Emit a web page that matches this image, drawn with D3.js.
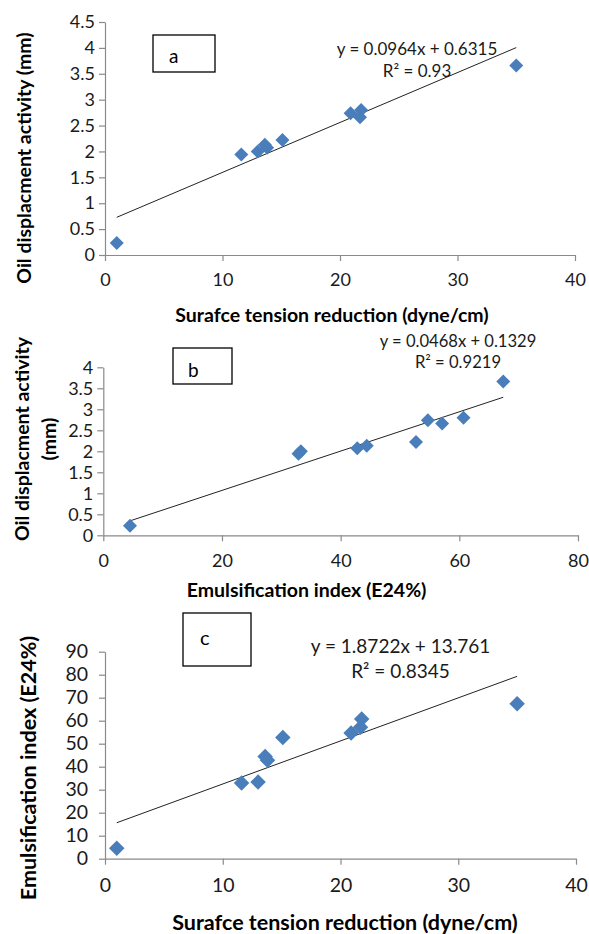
<!DOCTYPE html>
<html>
<head>
<meta charset="utf-8">
<script src="https://cdn.jsdelivr.net/npm/d3@7"></script>
<style>
body { margin: 0; background: #fff; }
svg { display: block; }
</style>
</head>
<body>
<svg id="mysvg" width="589" height="934"></svg>
<script>
// values, one entry per sample (same order in every array)
let stReduction = [1.0, 11.6, 13.0, 13.6, 13.8, 15.1, 20.9, 21.8, 21.7, 35.0];
let oilDisplacement = [0.23, 1.94, 2.0, 2.13, 2.07, 2.22, 2.74, 2.8, 2.66, 3.66];
let e24Index = [4.5, 32.9, 33.3, 44.4, 42.8, 52.7, 54.7, 60.7, 57.1, 67.4];

// tick labels
let stTicks = [0, 10, 20, 30, 40];
let e24Ticks = [0, 20, 40, 60, 80];
let oilTicksA = [0, 0.5, 1, 1.5, 2, 2.5, 3, 3.5, 4, 4.5];
let oilTicksB = [0, 0.5, 1, 1.5, 2, 2.5, 3, 3.5, 4];
let e24TicksY = [0, 10, 20, 30, 40, 50, 60, 70, 80, 90];

// linear trendlines as printed on the chart
let panelLetters = ["a", "b", "c"];
let trendSlopes = [0.0964, 0.0468, 1.8722];
let trendIntercepts = [0.6315, 0.1329, 13.761];
let trendEquations = ["y = 0.0964x + 0.6315", "y = 0.0468x + 0.1329", "y = 1.8722x + 13.761"];
let trendR2 = ["R\u00b2 = 0.93", "R\u00b2 = 0.9219", "R\u00b2 = 0.8345"];

var svg = d3.select("#mysvg");
var font = "Lato, 'Open Sans', sans-serif";
var axisColor = "#8a8a8a";
var markerColor = "#4a7ebb";

var panels = [
    { xs: stReduction, ys: oilDisplacement, xDomain: [0, 40], yDomain: [0, 4.5],
      xTicks: stTicks, yTicks: oilTicksA, xRange: [105, 575], yRange: [255, 22],
      tickFont: 18, yPad: 4, xLabelOff: 25,
      xTitle: "Surafce tension reduction (dyne/cm)", xTitleX: 332, xTitleY: 315, titleFont: 19.5,
      yTitle: ["Oil displacment activity (mm)"], yTitleX: [24.5], yTitleY: 158,
      box: [153, 35, 62, 37], letterX: 169, letterY: 63.3, letterFont: 19,
      eqX: 417, eqY: [55, 77.3], eqFont: 17, marker: 14 },
    { xs: e24Index, ys: oilDisplacement, xDomain: [0, 80], yDomain: [0, 4],
      xTicks: e24Ticks, yTicks: oilTicksB, xRange: [103.3, 578], yRange: [535.3, 367.3],
      tickFont: 18, yPad: 4, xLabelOff: 25,
      xTitle: "Emulsification index (E24%)", xTitleX: 306.6, xTitleY: 590, titleFont: 19.5,
      yTitle: ["Oil displacment activity", "(mm)"], yTitleX: [22.6, 49], yTitleY: 439,
      box: [173, 348, 59, 36], letterX: 188, letterY: 376.7, letterFont: 19,
      eqX: 458, eqY: [346.7, 368.3], eqFont: 16.6, marker: 14 },
    { xs: stReduction, ys: e24Index, xDomain: [0, 40], yDomain: [0, 90],
      xTicks: stTicks, yTicks: e24TicksY, xRange: [105, 576], yRange: [858.7, 651.7],
      tickFont: 19.5, yPad: 11, xLabelOff: 26,
      xTitle: "Surafce tension reduction (dyne/cm)", xTitleX: 345, xTitleY: 922, titleFont: 21.5,
      yTitle: ["Emulsification index (E24%)"], yTitleX: [28], yTitleY: 768,
      box: [183, 613, 68, 53], letterX: 200, letterY: 645, letterFont: 20,
      eqX: 400.5, eqY: [653.3, 678.3], eqFont: 19, marker: 15.5 }
];

function drawPanel(p, i) {
    var x = d3.scaleLinear().domain(p.xDomain).range(p.xRange);
    var y = d3.scaleLinear().domain(p.yDomain).range(p.yRange);
    var g = svg.append("g");

    var xAxis = g.append("g")
        .attr("transform", "translate(0," + p.yRange[0] + ")")
        .call(d3.axisBottom(x).tickValues(p.xTicks).tickSizeInner(6).tickSizeOuter(0).tickFormat(function(d) { return d; }));
    xAxis.selectAll("text").attr("y", p.xLabelOff).attr("dy", "0.35em");

    var yAxis = g.append("g")
        .attr("transform", "translate(" + p.xRange[0] + ",0)")
        .call(d3.axisLeft(y).tickValues(p.yTicks).tickSizeInner(6).tickSizeOuter(0).tickPadding(p.yPad).tickFormat(function(d) { return d; }));

    g.selectAll(".domain, .tick line").attr("stroke", axisColor).attr("stroke-width", 1.2);
    g.selectAll(".tick text")
        .attr("fill", "#1a1a1a")
        .attr("font-family", font)
        .attr("font-size", p.tickFont + "px");

    // trendline over the range of the data
    var x0 = d3.min(p.xs), x1 = d3.max(p.xs);
    g.append("line")
        .attr("x1", x(x0)).attr("y1", y(trendSlopes[i] * x0 + trendIntercepts[i]))
        .attr("x2", x(x1)).attr("y2", y(trendSlopes[i] * x1 + trendIntercepts[i]))
        .attr("stroke", "#222")
        .attr("stroke-width", 1);

    g.selectAll(".pt")
        .data(p.xs).enter().append("path")
        .attr("class", "pt")
        .attr("d", d3.symbol().type(d3.symbolSquare).size((p.marker * p.marker) / 2))
        .attr("transform", function(d, j) { return "translate(" + x(d) + "," + y(p.ys[j]) + ") rotate(45)"; })
        .attr("fill", markerColor);

    // equation text
    g.append("text")
        .attr("x", p.eqX).attr("y", p.eqY[0])
        .attr("text-anchor", "middle")
        .attr("font-family", font).attr("font-size", p.eqFont + "px").attr("fill", "#1a1a1a")
        .text(trendEquations[i]);
    g.append("text")
        .attr("x", p.eqX).attr("y", p.eqY[1])
        .attr("text-anchor", "middle")
        .attr("font-family", font).attr("font-size", p.eqFont + "px").attr("fill", "#1a1a1a")
        .text(trendR2[i]);

    // letter box
    g.append("rect")
        .attr("x", p.box[0]).attr("y", p.box[1])
        .attr("width", p.box[2]).attr("height", p.box[3])
        .attr("fill", "#fff").attr("stroke", "#000").attr("stroke-width", 1.3);
    g.append("text")
        .attr("x", p.letterX).attr("y", p.letterY)
        .attr("font-family", font).attr("font-size", p.letterFont + "px").attr("fill", "#000")
        .text(panelLetters[i]);

    // axis titles
    g.append("text")
        .attr("x", p.xTitleX).attr("y", p.xTitleY).attr("dy", "0.35em")
        .attr("text-anchor", "middle")
        .attr("font-family", font).attr("font-weight", "bold")
        .attr("font-size", p.titleFont + "px").attr("fill", "#000")
        .text(p.xTitle);

    p.yTitle.forEach(function(t, k) {
        g.append("text")
            .attr("transform", "translate(" + p.yTitleX[k] + "," + p.yTitleY + ") rotate(-90)")
            .attr("dy", "0.35em")
            .attr("text-anchor", "middle")
            .attr("font-family", font).attr("font-weight", "bold")
            .attr("font-size", p.titleFont + "px").attr("fill", "#000")
            .text(t);
    });
}

panels.forEach(drawPanel);
</script>
</body>
</html>
